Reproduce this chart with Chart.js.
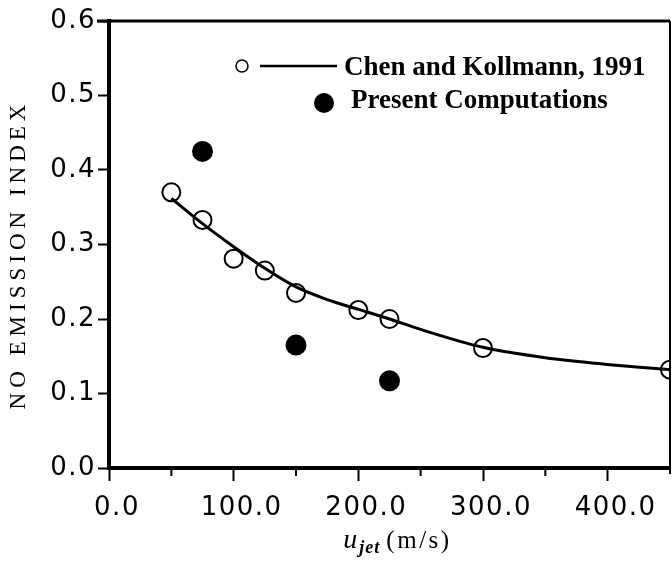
<!DOCTYPE html>
<html>
<head>
<meta charset="utf-8">
<script src="https://cdn.jsdelivr.net/npm/chart.js@4.4.1/dist/chart.umd.min.js"></script>
<style>
  html, body { margin: 0; padding: 0; background: #fff; }
  #wrap { width: 672px; height: 561px; }
</style>
</head>
<body>
<div id="wrap"><canvas id="chart" width="672" height="561"></canvas></div>
<script>
// tick values
const xTickValues = [0, 100, 200, 300, 400];
const xMinorValues = [50, 150, 250, 350];
const yTickValues = [0, 0.1, 0.2, 0.3, 0.4, 0.5, 0.6];

// Chen and Kollmann, 1991 — open circles
const chenX = [50, 75, 100, 125, 150, 200, 225, 300, 450];
const chenY = [0.370, 0.333, 0.281, 0.265, 0.235, 0.212, 0.200, 0.161, 0.132];

// Chen and Kollmann, 1991 — fitted curve
const curveX = [50, 75, 100, 125, 150, 175, 200, 225, 250, 300, 350, 400, 450];
const curveY = [0.362, 0.328, 0.297, 0.268, 0.243, 0.226, 0.213, 0.200, 0.186, 0.162, 0.148, 0.139, 0.132];

// Present Computations — filled circles
const presentX = [75, 150, 225];
const presentY = [0.425, 0.165, 0.117];

const toPoints = (xs, ys) => xs.map((x, i) => ({ x, y: ys[i] }));

// wider tick digits, like the scanned figure
const spacingPlugin = {
  id: "spacing",
  beforeDraw(chart) { chart.ctx.letterSpacing = "1.5px"; },
};

// frame (top/right), minor ticks, legend and axis titles
const decorPlugin = {
  id: "decor",
  afterDraw(chart) {
    const ctx = chart.ctx;
    const a = chart.chartArea;
    const xs = chart.scales.x;
    ctx.save();
    ctx.letterSpacing = "0px";
    ctx.strokeStyle = "#000";
    ctx.fillStyle = "#000";

    // top and right borders
    ctx.lineWidth = 3;
    ctx.beginPath();
    ctx.moveTo(a.left - 12, a.top);
    ctx.lineTo(a.right, a.top);
    ctx.stroke();
    ctx.lineWidth = 2;
    ctx.beginPath();
    ctx.moveTo(a.right, a.top);
    ctx.lineTo(a.right, a.bottom + 6);
    ctx.stroke();

    // minor x ticks
    ctx.lineWidth = 2;
    xMinorValues.forEach((v) => {
      const px = xs.getPixelForValue(v);
      ctx.beginPath();
      ctx.moveTo(px, a.bottom + 2);
      ctx.lineTo(px, a.bottom + 8);
      ctx.stroke();
    });

    // legend
    const lx = a.left, ly = a.top;
    ctx.lineWidth = 1.5;
    ctx.beginPath();
    ctx.arc(lx + 133, ly + 45, 6, 0, Math.PI * 2);
    ctx.stroke();
    ctx.lineWidth = 2.5;
    ctx.beginPath();
    ctx.moveTo(lx + 151, ly + 45);
    ctx.lineTo(lx + 228, ly + 45);
    ctx.stroke();
    ctx.beginPath();
    ctx.arc(lx + 215, ly + 82, 10, 0, Math.PI * 2);
    ctx.fill();
    ctx.font = "bold 27px 'Liberation Serif', serif";
    ctx.textAlign = "left";
    ctx.textBaseline = "alphabetic";
    ctx.fillText("Chen and Kollmann, 1991", lx + 235, ly + 54);
    ctx.fillText("Present Computations", lx + 242, ly + 87);

    // y axis title
    ctx.save();
    ctx.translate(19, (a.top + a.bottom) / 2 + 10);
    ctx.rotate(-Math.PI / 2);
    ctx.font = "23px 'Liberation Serif', serif";
    ctx.letterSpacing = "5px";
    ctx.textAlign = "center";
    ctx.textBaseline = "middle";
    ctx.fillText("NO EMISSION INDEX", 0, 0);
    ctx.restore();

    // x axis title: u_jet (m/s)
    const parts = [
      { t: "u", f: "italic 28px 'Liberation Serif', serif", dy: 0, sp: "0px", gap: 2 },
      { t: "jet", f: "bold italic 18px 'Liberation Serif', serif", dy: 5, sp: "1px", gap: 6 },
      { t: "(m/s)", f: "25px 'Liberation Serif', serif", dy: 0, sp: "2.5px", gap: 0 },
    ];
    let total = 0;
    parts.forEach((p) => {
      ctx.font = p.f;
      ctx.letterSpacing = p.sp;
      p.w = ctx.measureText(p.t).width;
      total += p.w + p.gap;
    });
    let cx = (a.left + a.right) / 2 + 8 - total / 2;
    const base = a.bottom + 80;
    ctx.textAlign = "left";
    parts.forEach((p) => {
      ctx.font = p.f;
      ctx.letterSpacing = p.sp;
      ctx.fillText(p.t, cx, base + p.dy);
      cx += p.w + p.gap;
    });
    ctx.restore();
  },
};

new Chart(document.getElementById("chart"), {
  type: "scatter",
  data: {
    datasets: [
      {
        label: "curve",
        type: "line",
        data: toPoints(curveX, curveY),
        borderColor: "#000",
        borderWidth: 3,
        pointRadius: 0,
        fill: false,
        cubicInterpolationMode: "monotone",
      },
      {
        label: "Chen and Kollmann, 1991",
        data: toPoints(chenX, chenY),
        pointRadius: 9,
        pointBorderWidth: 2,
        pointBorderColor: "#000",
        pointBackgroundColor: "rgba(0,0,0,0)",
        showLine: false,
      },
      {
        label: "Present Computations",
        data: toPoints(presentX, presentY),
        pointRadius: 10.5,
        pointBorderWidth: 0,
        pointBackgroundColor: "#000",
        showLine: false,
      },
    ],
  },
  options: {
    responsive: false,
    animation: false,
    devicePixelRatio: 1,
    layout: { autoPadding: false, padding: { top: 21, right: 2, left: 0, bottom: 0 } },
    plugins: {
      legend: { display: false },
      tooltip: { enabled: false },
    },
    scales: {
      x: {
        type: "linear",
        min: 0,
        max: 450,
        afterBuildTicks: (s) => { s.ticks = xTickValues.map((v) => ({ value: v })); },
        afterFit: (s) => { s.height = 93; },
        border: { color: "#000", width: 4 },
        grid: { drawOnChartArea: false, drawTicks: true, tickLength: 13, tickWidth: 2, tickColor: "#000" },
        ticks: {
          color: "#000",
          font: { family: "'DejaVu Sans', sans-serif", size: 26 },
          padding: 12,
          maxRotation: 0,
          labelOffset: 8,
          callback: (v) => Number(v).toFixed(1),
        },
      },
      y: {
        type: "linear",
        min: 0,
        max: 0.6,
        afterBuildTicks: (s) => { s.ticks = yTickValues.map((v) => ({ value: v })); },
        afterFit: (s) => { s.width = 109; },
        border: { color: "#000", width: 4 },
        grid: { drawOnChartArea: false, drawTicks: true, tickLength: 11, tickWidth: 2, tickColor: "#000" },
        ticks: {
          color: "#000",
          font: { family: "'DejaVu Sans', sans-serif", size: 26 },
          padding: 2,
          callback: (v) => Number(v).toFixed(1),
        },
      },
    },
  },
  plugins: [spacingPlugin, decorPlugin],
});
</script>
</body>
</html>
